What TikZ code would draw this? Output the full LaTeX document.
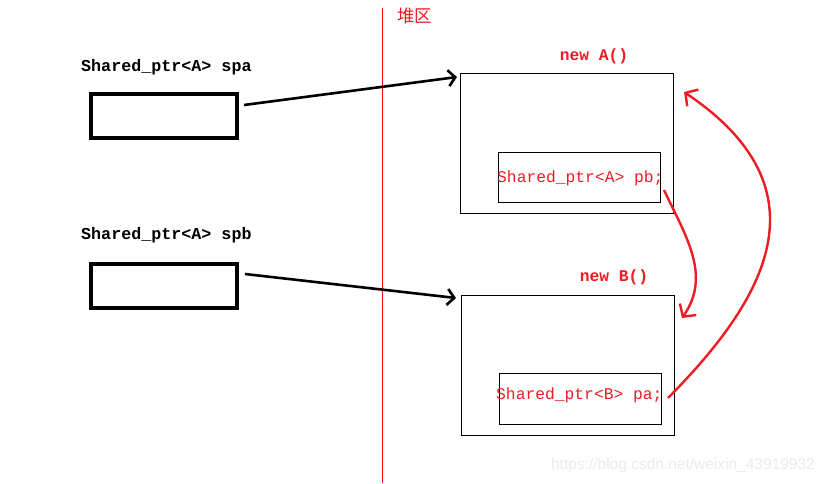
\documentclass[tikz,border=0pt]{standalone}
\usepackage{fontspec}
\setmonofont{Liberation Mono}
\newfontfamily\cjkfont{Noto Sans CJK SC}
\newfontfamily\wmfont{Liberation Sans}
\usetikzlibrary{arrows.meta}
\definecolor{pred}{HTML}{ED1C24}
\begin{document}
\begin{tikzpicture}[x=1pt,y=-1pt,
  lbl/.style={font=\fontsize{16.7}{17}\selectfont\ttfamily\bfseries, inner sep=0pt, anchor=west},
  rlbl/.style={font=\fontsize{16.3}{17}\selectfont\ttfamily, text=pred, inner sep=0pt, anchor=west},
  newlbl/.style={font=\fontsize{16.3}{17}\selectfont\ttfamily\bfseries, text=pred, inner sep=0pt},
  ptrbox/.style={draw, line width=4pt},
  objbox/.style={draw, line width=1pt},
  inbox/.style={draw, line width=1pt},
  blackarr/.style={line width=2.6pt, -{Straight Barb[length=7pt,width=16pt,line width=2.6pt]}},
  redarr/.style={draw=pred, line width=2.4pt, -{Straight Barb[length=9pt,width=20pt,line width=2.4pt]}}
]
\useasboundingbox (0,0) rectangle (824,483);
\fill[white] (0,0) rectangle (824,483);

% heap divider
\coordinate (vtop) at (382,8);
\coordinate (vbot) at (382,483);
\draw[red, line width=1pt] (vtop) -- (vbot);
\node[font=\fontsize{17.5}{18}\selectfont\cjkfont, text=pred, inner sep=0pt, anchor=west] (heap) at (397,16) {堆区};

% stack pointers
\node[lbl] (spalbl) at (81,67) {Shared\_ptr<A> spa};
\node[ptrbox, minimum width=146pt, minimum height=44pt, inner sep=0pt] (spa) at (164,116) {};
\node[lbl] (spblbl) at (81,235) {Shared\_ptr<A> spb};
\node[ptrbox, minimum width=146pt, minimum height=44pt, inner sep=0pt] (spb) at (164,286) {};

% object A
\node[newlbl] (newA) at (594,56) {new A()};
\node[objbox, minimum width=213pt, minimum height=140pt, inner sep=0pt] (objA) at (566.5,143) {};
\node[inbox, minimum width=162pt, minimum height=50pt, inner sep=0pt] (inA) at (579,177) {};
\node[rlbl] (pb) at (497,178) {Shared\_ptr<A> pb;};

% object B
\node[newlbl] (newB) at (614,277) {new B()};
\node[objbox, minimum width=213pt, minimum height=140pt, inner sep=0pt] (objB) at (567.5,365) {};
\node[inbox, minimum width=162pt, minimum height=51pt, inner sep=0pt] (inB) at (580,398.5) {};
\node[rlbl] (pa) at (496,395) {Shared\_ptr<B> pa;};

% black arrows
\coordinate (a1s) at (244,105);
\coordinate (a1e) at (457,77);
\draw[blackarr] (a1s) -- (a1e);
\coordinate (a2s) at (245,274);
\coordinate (a2e) at (456,298);
\draw[blackarr] (a2s) -- (a2e);

% red arrows
\coordinate (r1s) at (664,190);
\coordinate (r1e) at (682,318);
\draw[redarr] (r1s) .. controls (685,235) and (712,275) .. (r1e);
\coordinate (r2s) at (668,398);
\coordinate (r2e) at (684,92);
\draw[redarr] (r2s) .. controls (765,300) and (830,190) .. (r2e);

% watermark
\node[font=\fontsize{15.5}{16}\selectfont\wmfont, text=black!8, inner sep=0pt, anchor=east] (wm) at (815,465) {https://blog.csdn.net/weixin\_43919932};
\end{tikzpicture}
\end{document}
